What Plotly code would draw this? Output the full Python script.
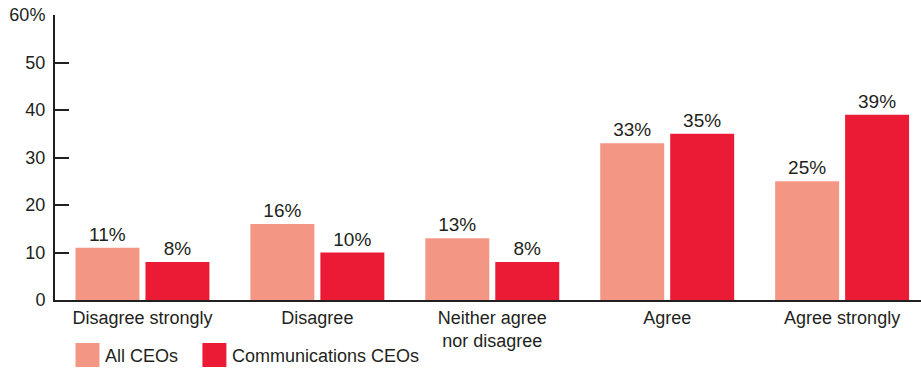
import plotly.graph_objects as go

categories = ["Disagree strongly", "Disagree", "Neither agree<br>nor disagree", "Agree", "Agree strongly"]
series_names = ["All CEOs", "Communications CEOs"]
all_ceos = [11, 16, 13, 33, 25]
comm_ceos = [8, 10, 8, 35, 39]
y_tickvals = [0, 10, 20, 30, 40, 50, 60]
y_ticktext = ["0", "10", "20", "30", "40", "50", "60%"]

colors = ["#F49684", "#EC1B35"]
text_color = "#231F20"
font_family = "Liberation Sans, Arial, Helvetica, sans-serif"

fig = go.Figure()
for name, vals, col in zip(series_names, [all_ceos, comm_ceos], colors):
    fig.add_trace(go.Bar(
        x=categories, y=vals, name=name,
        marker=dict(color=col, line=dict(width=0)),
        text=[f"{v}%" for v in vals],
        textposition="outside",
        textfont=dict(size=19, color=text_color, family=font_family),
        cliponaxis=False,
        showlegend=False,
    ))

# Legend drawn as swatches with labels below the axis
legend_items = [(series_names[0], colors[0], 75, 103), (series_names[1], colors[1], 202, 230)]
shapes = []
annotations = []
for name, col, x0, tx in legend_items:
    shapes.append(dict(type="rect", xref="paper", yref="paper",
                       x0=(x0 - 54.5) / 866.5, x1=(x0 + 24 - 54.5) / 866.5,
                       y0=-(367 - 300) / 285, y1=-(343 - 300) / 285,
                       fillcolor=col, line=dict(width=0)))
    annotations.append(dict(text=name, xref="paper", yref="paper",
                            x=(tx - 54.5) / 866.5, y=-(355.5 - 300) / 285,
                            xanchor="left", yanchor="middle", showarrow=False,
                            font=dict(size=18, color=text_color, family=font_family)))

fig.update_layout(
    width=921, height=369,
    margin=dict(l=54.5, r=0, t=15, b=69),
    paper_bgcolor="white", plot_bgcolor="white",
    barmode="group", bargap=0.2, bargroupgap=0.0857,
    font=dict(family=font_family, color=text_color, size=18),
    shapes=shapes, annotations=annotations,
    xaxis=dict(
        range=[-0.5, 4.451], showline=True, linecolor=text_color, linewidth=2,
        ticks="", showgrid=False, zeroline=False,
        tickfont=dict(size=18, color=text_color, family=font_family),
        fixedrange=True,
    ),
    yaxis=dict(
        range=[0, 60], tickvals=y_tickvals, ticktext=y_ticktext,
        showline=True, linecolor=text_color, linewidth=2,
        ticks="inside", ticklen=14, tickwidth=2, tickcolor=text_color,
        ticklabelstandoff=4,
        showgrid=False, zeroline=False,
        tickfont=dict(size=18, color=text_color, family=font_family),
    ),
)

fig.write_html("out.html")
